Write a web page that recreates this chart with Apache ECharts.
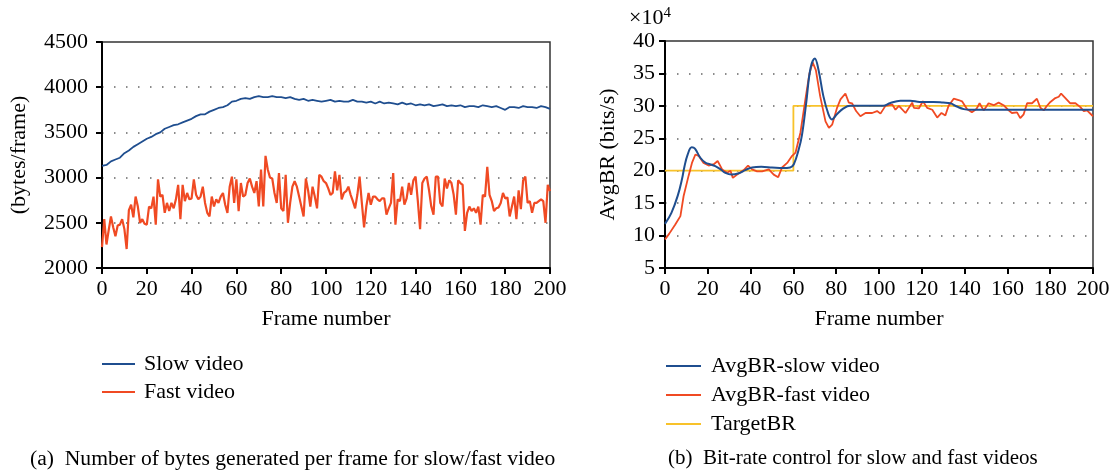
<!DOCTYPE html>
<html>
<head>
    <meta charset="utf-8">
    <title>Bytes per frame / bit-rate control</title>
    <script src="https://cdn.jsdelivr.net/npm/echarts@6/dist/echarts.min.js"></script>
    <style>
        html, body { margin: 0; padding: 0; background: #fff; }
        #main { width: 1115px; height: 475px; }
    </style>
</head>
<body>
<div id="main"></div>
<script type="text/javascript">
    // (a) bytes per frame, one value per frame 0..200
    var fastBytes = [
        2230, 2540, 2260, 2420, 2570, 2450, 2350, 2470, 2480, 2540,
        2430, 2210, 2640, 2700, 2560, 2790, 2680, 2500, 2540, 2490,
        2480, 2680, 2660, 2790, 2480, 2980, 2790, 2810, 2610, 2720,
        2630, 2720, 2660, 2760, 2920, 2540, 2920, 2740, 2830, 2760,
        2770, 2980, 2810, 2760, 2790, 2900, 2720, 2610, 2570, 2790,
        2680, 2760, 2720, 2790, 2830, 2700, 2610, 2900, 3010, 2720,
        2980, 2630, 2940, 2790, 2810, 2940, 2990, 2900, 2830, 2960,
        2680, 3090, 2680, 3240, 3090, 3000, 2990, 2830, 2720, 3050,
        2660, 2630, 3030, 2500, 2720, 2900, 2960, 2900, 2790, 2680,
        2570, 2990, 2860, 2680, 2900, 2790, 2660, 3030, 3010, 2960,
        2940, 2880, 2810, 2830, 3070, 2860, 3030, 2760, 2830, 2850,
        2900, 2810, 2740, 2660, 2810, 3010, 2720, 2450, 2680, 2830,
        2700, 2790, 2790, 2760, 2740, 2770, 2770, 2590, 2660, 2720,
        3050, 2480, 2760, 2740, 2900, 2700, 2770, 2940, 2810, 2970,
        3010, 2740, 2430, 2940, 2990, 3010, 2860, 2680, 2590, 3010,
        3010, 2720, 2680, 2990, 2880, 2970, 2940, 2810, 2590, 2970,
        2940, 2920, 2410, 2610, 2680, 2630, 2660, 2610, 2680, 2480,
        2810, 2790, 3120, 2810, 2740, 2630, 2660, 2670, 2720, 2830,
        2770, 2780, 2570, 2680, 2790, 2540, 2860, 2650, 2970, 3010,
        2720, 2740, 2610, 2720, 2720, 2740, 2760, 2740, 2500, 2920,
        2850
    ];
    // slow video, one value every 2 frames (0, 2, ..., 200)
    var slowBytes = [
        3130, 3140, 3180, 3200, 3220, 3270, 3300, 3340, 3370, 3400,
        3430, 3450, 3480, 3500, 3540, 3560, 3580, 3590, 3610, 3630,
        3650, 3680, 3700, 3700, 3730, 3750, 3770, 3780, 3800, 3840,
        3850, 3870, 3880, 3870, 3890, 3900, 3890, 3890, 3900, 3890,
        3890, 3880, 3890, 3870, 3860, 3870, 3850, 3860, 3850, 3840,
        3850, 3860, 3840, 3850, 3840, 3840, 3860, 3840, 3840, 3830,
        3840, 3820, 3840, 3820, 3830, 3820, 3810, 3830, 3810, 3820,
        3800, 3810, 3800, 3810, 3790, 3800, 3810, 3790, 3800, 3790,
        3800, 3780, 3790, 3790, 3780, 3800, 3790, 3780, 3790, 3770,
        3750, 3780, 3780, 3770, 3790, 3780, 3780, 3770, 3790, 3780,
        3760
    ];

    // (b) average bit-rate, [frame, value x10^4 bits/s]
    var brSlow = [
        [0, 11.8], [3, 13.5], [6, 16.2], [8, 18.8], [9, 20.5], [10.5, 22.4], [12.5, 23.6],
        [14, 23.4], [16.5, 22.0], [19, 21.2], [21, 21.0], [23.5, 20.7], [26, 20.2], [28, 19.7],
        [31, 19.4], [34.5, 19.6], [37.5, 20.1], [40.7, 20.5], [45, 20.6], [50, 20.5], [55, 20.4],
        [58.5, 20.5], [60.2, 21.0], [62.5, 23.3], [64, 25.5], [66, 30.5], [68, 35.8], [70, 37.3],
        [71.7, 35.6], [74, 31.5], [76.4, 28.7], [78, 27.9], [80.3, 28.7], [83.4, 29.6], [86.5, 30.0],
        [95, 30.0], [102, 30.0], [105, 30.4], [110, 30.8], [114.6, 30.8], [119, 30.6], [125.5, 30.6],
        [130, 30.5], [133.3, 30.4], [136.4, 29.9], [139.6, 29.5], [143, 29.4], [200, 29.4]
    ];
    var brFast = [
        [0, 9.4], [2, 10.3], [4.8, 11.7], [7.2, 13.0], [8.7, 16.1], [11, 19.2], [12.6, 21.2],
        [14.2, 22.5], [15.7, 22.3], [18, 21.2], [20.4, 20.8], [22.8, 21.0], [24.6, 21.5], [26.7, 20.2],
        [29, 19.7], [30.6, 20.0], [31.7, 18.9], [33.7, 19.4], [36.8, 20.1], [38.8, 20.8], [40.7, 20.2],
        [43, 19.9], [45.4, 19.9], [48.5, 20.2], [50.8, 19.4], [52.9, 19.0], [54.7, 20.5], [57.1, 21.2],
        [59.4, 22.3], [61, 22.8], [63.3, 25.9], [65.6, 31.0], [67.5, 35.0], [69, 36.7], [70.5, 35.5],
        [72.5, 31.5], [75, 27.6], [76.6, 26.6], [78.1, 27.1], [80.4, 29.7], [82, 31.0], [84.3, 31.9],
        [85.9, 30.5], [87.4, 30.4], [89.3, 29.2], [91.3, 28.4], [93.7, 28.9], [96.8, 28.9], [99.1, 29.2],
        [100.7, 28.8], [103, 30.0], [106.2, 30.2], [107.7, 29.4], [109.3, 30.0], [112.4, 28.9], [115.5, 30.5],
        [116.3, 29.7], [118.6, 29.6], [120.5, 30.7], [122.5, 29.7], [124.9, 29.4], [127.2, 28.2], [129.2, 28.9],
        [131, 28.5], [132.5, 30.0], [134.9, 31.1], [137.2, 30.9], [138.8, 30.7], [141.1, 29.5], [143.4, 29.0],
        [145.5, 29.5], [147, 30.4], [148.9, 29.3], [151.2, 30.4], [153.6, 30.1], [155.9, 30.5], [158.2, 30.1],
        [160.6, 29.3], [162.1, 28.9], [164.5, 29.0], [166, 28.1], [167.6, 28.7], [169.2, 30.4], [171.5, 30.4],
        [173.8, 31.1], [175.4, 29.7], [177, 29.3], [178.2, 29.9], [180.1, 30.6], [182.4, 31.2], [184, 31.4],
        [185.1, 31.9], [187.1, 31.2], [189.4, 30.4], [191.8, 30.4], [194.1, 29.8], [195.7, 29.2], [197.2, 29.3],
        [200, 28.4]
    ];
    var brTarget = [[0, 20], [60, 20], [60, 30], [200, 30]];

    var FONT = '"Liberation Serif", "DejaVu Serif", serif';
    var FS = 22;
    var BLUE = '#1f4e8f', RED = '#f04a23', YELLOW = '#f8c22a';

    var fastData = fastBytes.map(function (v, i) { return [i, v]; });
    var slowData = slowBytes.map(function (v, i) { return [i * 2, v]; });

    function plain(v) { return String(v); }

    function xAx(gi) {
        return {
            type: 'value', gridIndex: gi, min: 0, max: 200, interval: 20,
            name: 'Frame number', nameLocation: 'middle', nameGap: 40,
            nameTextStyle: { fontFamily: FONT, fontSize: FS, color: '#000' },
            axisLine: { onZero: false, lineStyle: { color: '#000', width: 2 } },
            axisTick: { length: 6, lineStyle: { color: '#000', width: 2 } },
            axisLabel: { fontFamily: FONT, fontSize: FS, color: '#000', margin: 10, formatter: plain },
            splitLine: { show: false }
        };
    }
    function yAx(gi, min, max, step, name, gap, lblMargin) {
        return {
            type: 'value', gridIndex: gi, min: min, max: max, interval: step,
            name: name, nameLocation: 'middle', nameGap: gap,
            nameTextStyle: { fontFamily: FONT, fontSize: FS, color: '#000' },
            axisLine: { onZero: false, lineStyle: { color: '#000', width: 2 } },
            axisTick: { length: 6, lineStyle: { color: '#000', width: 2 } },
            axisLabel: { fontFamily: FONT, fontSize: FS, color: '#000', margin: lblMargin, formatter: plain },
            splitLine: { show: true, lineStyle: { color: '#666', width: 1.5, type: [1.5, 10.5] } }
        };
    }

    var chart = echarts.init(document.getElementById('main'));
    chart.setOption({
        animation: false,
        backgroundColor: '#fff',
        textStyle: { fontFamily: FONT },
        grid: [
            { left: 102, top: 42, width: 448, height: 226, show: true, borderColor: '#333', borderWidth: 1.5 },
            { left: 665, top: 41, width: 428, height: 227, show: true, borderColor: '#333', borderWidth: 1.5 }
        ],
        xAxis: [xAx(0), xAx(1)],
        yAxis: [
            yAx(0, 2000, 4500, 500, '(bytes/frame)', 72, 14),
            yAx(1, 5, 40, 5, 'AvgBR (bits/s)', 46, 10)
        ],
        legend: [
            {
                data: ['Slow video', 'Fast video'], orient: 'vertical', left: 97, top: 348,
                icon: 'rect', itemWidth: 33, itemHeight: 2, itemGap: 6,
                textStyle: { fontFamily: FONT, fontSize: FS, color: '#000', padding: [0, 0, 0, 4] }
            },
            {
                data: ['AvgBR-slow video', 'AvgBR-fast video', 'TargetBR'], orient: 'vertical', left: 661, top: 350,
                icon: 'rect', itemWidth: 35, itemHeight: 2, itemGap: 7,
                textStyle: { fontFamily: FONT, fontSize: FS, color: '#000', padding: [0, 0, 0, 5] }
            }
        ],
        graphic: [
            { type: 'text', left: 30, top: 448, style: { text: '(a)  Number of bytes generated per frame for slow/fast video', font: '21.6px ' + FONT, fill: '#000' } },
            { type: 'text', left: 668, top: 448, style: { text: '(b)  Bit-rate control for slow and fast videos', font: '21px ' + FONT, fill: '#000' } },
            {
                type: 'text', left: 629, top: 6,
                style: {
                    text: '×10{sup|4}', font: '22px ' + FONT, fill: '#000',
                    rich: { sup: { fontSize: 15, fontFamily: FONT, verticalAlign: 'top', padding: [0, 0, 10, 0] } }
                }
            }
        ],
        series: [
            { name: 'Slow video', type: 'line', xAxisIndex: 0, yAxisIndex: 0, data: slowData, symbol: 'none',
              color: BLUE, lineStyle: { color: BLUE, width: 1.8 } },
            { name: 'Fast video', type: 'line', xAxisIndex: 0, yAxisIndex: 0, data: fastData, symbol: 'none',
              color: RED, lineStyle: { color: RED, width: 2.2 } },
            { name: 'TargetBR', type: 'line', xAxisIndex: 1, yAxisIndex: 1, data: brTarget, symbol: 'none',
              color: YELLOW, lineStyle: { color: YELLOW, width: 1.8 } },
            { name: 'AvgBR-fast video', type: 'line', xAxisIndex: 1, yAxisIndex: 1, data: brFast, symbol: 'none',
              color: RED, lineStyle: { color: RED, width: 1.8 } },
            { name: 'AvgBR-slow video', type: 'line', xAxisIndex: 1, yAxisIndex: 1, data: brSlow, symbol: 'none',
              smooth: 0.4, color: BLUE, lineStyle: { color: BLUE, width: 2 } }
        ]
    });
</script>
</body>
</html>
